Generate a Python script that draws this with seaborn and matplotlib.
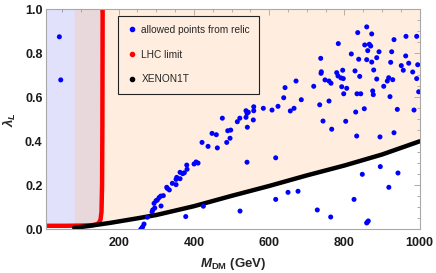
import numpy as np
import pandas as pd
import matplotlib
matplotlib.use("Agg")
import matplotlib.pyplot as plt
import seaborn as sns
from matplotlib.lines import Line2D
from matplotlib.ticker import MultipleLocator, FormatStrFormatter

# relic-allowed scan points (M_DM in GeV, lambda_L)
m_dm = [42.5, 46.2, 258.8, 261.4, 264.1, 267.5, 276.3, 288.8, 290.6, 296.0,
        294.1, 299.4, 302.9, 307.4, 311.9, 318.8, 312.7, 327.8, 329.4, 334.7,
        342.7, 352.6, 352.6, 354.4, 363.2, 363.2, 370.3, 374.6, 381.0, 381.8,
        400.4, 405.7, 411.0, 378.3, 425.1, 421.6, 437.6, 462.3, 448.2, 459.6,
        475.6, 489.9, 497.9, 487.2, 496.0, 515.4, 522.0, 538.5, 557.9, 542.0,
        541.2, 522.6, 538.5, 544.6, 541.2, 559.0, 559.0, 584.5, 607.6, 623.5,
        656.2, 666.1, 638.7, 642.2, 685.4, 671.4, 718.4, 737.0, 738.6, 737.8,
        748.4, 759.0, 734.3, 759.0, 743.1, 617.4, 650.1, 676.7, 617.4, 727.9,
        763.5, 859.2, 835.3, 872.5, 963.6, 992.0, 931.7, 783.7, 853.9, 866.1,
        869.8, 861.9, 891.9, 925.6, 818.3, 962.8, 885.8, 837.9, 859.2, 872.5,
        922.9, 970.8, 951.1, 994.7, 877.8, 828.1, 795.4, 956.4, 981.4, 779.5,
        782.9, 790.9, 797.0, 840.6, 764.3, 885.8, 917.6, 913.9, 928.3, 992.0,
        904.4, 792.8, 806.1, 875.1, 997.3, 798.1, 833.4, 843.3, 876.7, 921.1,
        852.8, 940.5, 984.9, 830.0, 803.4, 766.2, 832.6, 894.5, 931.7, 895.3,
        942.3, 847.5, 918.0, 825.5, 863.4, 860.7, 859.1]
lam_l = [0.875, 0.679, 0.000, 0.005, 0.012, 0.024, 0.055, 0.079, 0.088, 0.097,
         0.118, 0.130, 0.133, 0.144, 0.151, 0.153, 0.106, 0.191, 0.186, 0.179,
         0.209, 0.203, 0.227, 0.236, 0.230, 0.259, 0.253, 0.257, 0.292, 0.273,
         0.297, 0.306, 0.301, 0.058, 0.105, 0.395, 0.377, 0.370, 0.436, 0.430,
         0.505, 0.448, 0.451, 0.395, 0.414, 0.489, 0.505, 0.509, 0.497, 0.464,
         0.305, 0.083, 0.539, 0.532, 0.527, 0.557, 0.539, 0.550, 0.542, 0.559,
         0.538, 0.550, 0.598, 0.644, 0.589, 0.674, 0.650, 0.777, 0.716, 0.709,
         0.679, 0.674, 0.566, 0.583, 0.492, 0.325, 0.168, 0.173, 0.136, 0.088,
         0.056, 0.920, 0.894, 0.888, 0.877, 0.877, 0.862, 0.844, 0.838, 0.841,
         0.833, 0.812, 0.807, 0.807, 0.797, 0.788, 0.780, 0.773, 0.771, 0.760,
         0.759, 0.755, 0.744, 0.748, 0.724, 0.720, 0.723, 0.723, 0.715, 0.712,
         0.697, 0.688, 0.685, 0.695, 0.664, 0.683, 0.689, 0.674, 0.680, 0.685,
         0.650, 0.648, 0.641, 0.629, 0.625, 0.616, 0.616, 0.616, 0.612, 0.603,
         0.548, 0.545, 0.542, 0.533, 0.491, 0.455, 0.424, 0.420, 0.439, 0.285,
         0.256, 0.250, 0.191, 0.136, 0.038, 0.032, 0.029]

# LHC limit curve
lhc_m = [7, 60, 100, 130, 142, 148, 152, 154.5, 156, 156.8, 157.2, 157.5]
lhc_lam = [0.016, 0.016, 0.017, 0.019, 0.023, 0.030, 0.045, 0.080, 0.20, 0.45, 0.75, 1.0]

# XENON1T limit curve
xenon_m = [82, 120, 180, 250, 300, 400, 500, 600, 700, 800, 900, 1000]
xenon_lam = [0.007, 0.015, 0.030, 0.050, 0.065, 0.105, 0.152, 0.197, 0.245, 0.290, 0.340, 0.400]

pts = pd.DataFrame({"m": m_dm, "lam": lam_l})
lhc = pd.DataFrame({"m": lhc_m, "lam": lhc_lam})
xen = pd.DataFrame({"m": xenon_m, "lam": xenon_lam})

sns.set_style("white")
plt.rcParams['font.family'] = ['Liberation Sans', 'DejaVu Sans']
plt.rcParams['mathtext.fontset'] = 'custom'
plt.rcParams['mathtext.rm'] = 'Liberation Sans'
plt.rcParams['mathtext.it'] = 'Liberation Sans:italic:bold'
plt.rcParams['mathtext.bf'] = 'Liberation Sans:bold'
plt.rcParams['mathtext.bfit'] = 'Liberation Sans:italic:bold'

fig = plt.figure(figsize=(4.36, 2.73), dpi=100)
ax = fig.add_axes([0.1055, 0.160, 0.8571, 0.806])

# excluded regions
ax.fill_between(lhc["m"], lhc["lam"], 1.0, color=(0.35, 0.35, 0.95), alpha=0.18, lw=0)
ax.fill_between(xen["m"], xen["lam"], 1.0, color=(1.0, 0.75, 0.5), alpha=0.25, lw=0)

sns.lineplot(data=lhc, x="m", y="lam", color="red", lw=3.2, sort=False,
             estimator=None, ax=ax)
sns.lineplot(data=xen, x="m", y="lam", color="black", lw=3.2, sort=False,
             estimator=None, ax=ax)
sns.scatterplot(data=pts, x="m", y="lam", color="blue", s=13, edgecolor="none",
                ax=ax, zorder=5)

ax.set_xlim(7, 1000)
ax.set_ylim(0, 1.0)
ax.set_xticks([200, 400, 600, 800, 1000])
ax.xaxis.set_minor_locator(MultipleLocator(50))
ax.yaxis.set_major_locator(MultipleLocator(0.2))
ax.yaxis.set_minor_locator(MultipleLocator(0.05))
ax.yaxis.set_major_formatter(FormatStrFormatter("%.1f"))

ax.tick_params(which="both", direction="in", top=True, right=True,
               color="#9a9a9a", width=0.6)
ax.tick_params(which="major", length=4, labelsize=9)
ax.tick_params(axis="x", which="major", pad=5.5)
ax.tick_params(axis="y", which="major", pad=2.5)
ax.tick_params(which="minor", length=2)
for lbl in ax.get_xticklabels() + ax.get_yticklabels():
    lbl.set_fontweight("bold")
    lbl.set_color("#1a1a1a")
for sp in ax.spines.values():
    sp.set_color("#a8a8a8")
    sp.set_linewidth(0.8)

ax.set_xlabel(r"$\mathbfit{M}_{\mathbf{DM}}$ (GeV)", fontsize=9.5, fontweight="bold",
              labelpad=5)
ax.set_ylabel(r"$\lambda_L$", fontsize=9.5, labelpad=5)

handles = [
    Line2D([], [], marker="o", ls="none", color="blue", markersize=3),
    Line2D([], [], marker="o", ls="none", color="red", markersize=3),
    Line2D([], [], marker="o", ls="none", color="black", markersize=3),
]
leg = ax.legend(handles, ["allowed points from relic", "LHC limit", "XENON1T"],
                loc="upper left", bbox_to_anchor=(0.193, 0.97), fontsize=7.3,
                frameon=True, fancybox=False, facecolor="none",
                edgecolor="#222222", labelspacing=1.45, handletextpad=0.4,
                handlelength=1.0, borderpad=0.9, borderaxespad=0)
leg.get_frame().set_linewidth(0.8)
leg.get_frame().set_alpha(None)

fig.savefig("out.png", dpi=100)
